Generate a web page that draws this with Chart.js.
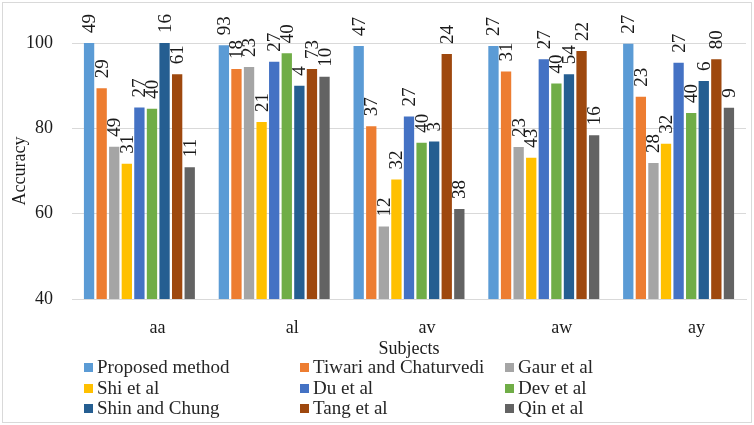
<!DOCTYPE html>
<html>
<head>
<meta charset="utf-8">
<script src="https://cdn.jsdelivr.net/npm/chart.js@4/dist/chart.umd.min.js"></script>
<style>
  html, body { margin: 0; padding: 0; background: #fff; }
  #wrap { position: relative; width: 754px; height: 425px; overflow: hidden; }
  #c { position: absolute; left: 0; top: 0; }
  #legend { position: absolute; left: 0; top: 357px; width: 754px; font-family: "Liberation Serif", serif; font-size: 19px; color: #262626; }
  .item { position: absolute; white-space: nowrap; line-height: 20px; }
  .sw { display: inline-block; width: 9px; height: 9px; margin-right: 4px; vertical-align: 1px; }
</style>
</head>
<body>
<div id="wrap">
  <canvas id="c" width="754" height="425"></canvas>
  <div id="legend"></div>
</div>
<script>
const categories = ['aa', 'al', 'av', 'aw', 'ay'];
const seriesNames = ['Proposed method', 'Tiwari and Chaturvedi', 'Gaur et al', 'Shi et al', 'Du et al', 'Dev et al', 'Shin and Chung', 'Tang et al', 'Qin et al'];
const seriesColors = ['#5B9BD5', '#ED7D31', '#A5A5A5', '#FFC000', '#4472C4', '#70AD47', '#255E91', '#9E480E', '#636363'];

const proposed = [100, 99.5, 99.3, 99.3, 99.8];
const tiwari   = [89.4, 93.9, 80.5, 93.3, 87.4];
const gaur     = [75.7, 94.4, 57.0, 75.6, 71.9];
const shi      = [71.7, 81.5, 68.0, 73.1, 76.4];
const du       = [84.9, 95.6, 82.8, 96.2, 95.4];
const dev      = [84.6, 97.6, 76.6, 90.5, 83.6];
const shin     = [100, 90.0, 76.9, 92.7, 91.1];
const tang     = [92.7, 93.9, 97.4, 98.1, 96.2];
const qin      = [70.9, 92.1, 61.1, 78.4, 84.8];

const proposedLabels = ['49', '93', '47', '27', '27'];
const tiwariLabels   = ['29', '18', '37', '31', '23'];
const gaurLabels     = ['49', '23', '12', '23', '28'];
const shiLabels      = ['31', '21', '32', '43', '32'];
const duLabels       = ['27', '27', '27', '27', '27'];
const devLabels      = ['40', '40', '40', '40', '40'];
const shinLabels     = ['16', '4', '3', '54', '6'];
const tangLabels     = ['61', '73', '24', '22', '80'];
const qinLabels      = ['11', '10', '38', '16', '9'];

const yTicks = [40, 60, 80, 100];

const seriesValues = [proposed, tiwari, gaur, shi, du, dev, shin, tang, qin];
const seriesLabels = [proposedLabels, tiwariLabels, gaurLabels, shiLabels, duLabels, devLabels, shinLabels, tangLabels, qinLabels];

const FONT = '"Liberation Serif", "Times New Roman", serif';

const datasets = seriesNames.map((name, i) => ({
  label: name,
  data: seriesValues[i],
  valueLabels: seriesLabels[i],
  backgroundColor: seriesColors[i],
  borderWidth: 0,
  categoryPercentage: 0.84,
  barPercentage: 0.82
}));

const valueLabelPlugin = {
  id: 'valueLabels',
  afterDatasetsDraw(chart) {
    const ctx = chart.ctx;
    ctx.save();
    ctx.font = '19px ' + FONT;
    ctx.fillStyle = '#1a1a1a';
    ctx.textAlign = 'left';
    ctx.textBaseline = 'middle';
    chart.data.datasets.forEach((ds, di) => {
      const meta = chart.getDatasetMeta(di);
      meta.data.forEach((bar, i) => {
        const txt = ds.valueLabels[i];
        ctx.save();
        ctx.translate(bar.x + 1, bar.y - 10);
        ctx.rotate(-Math.PI / 2);
        ctx.fillText(txt, 0, 0);
        ctx.restore();
      });
    });
    ctx.restore();
  }
};

const borderPlugin = {
  id: 'outerBorder',
  afterDraw(chart) {
    const ctx = chart.ctx;
    ctx.save();
    ctx.strokeStyle = '#D9D9D9';
    ctx.lineWidth = 1;
    ctx.strokeRect(2.5, 2.5, 749, 420);
    ctx.restore();
  }
};

const chart = new Chart(document.getElementById('c'), {
  type: 'bar',
  data: { labels: categories, datasets },
  options: {
    responsive: false,
    animation: false,
    layout: { padding: { top: 43, left: 9, right: 8, bottom: 65 } },
    plugins: {
      legend: { display: false },
      tooltip: { enabled: false }
    },
    scales: {
      x: {
        afterFit(scale) { scale.height = 61; scale.paddingLeft = 0; scale.paddingRight = 0; },
        grid: { display: false, drawTicks: false },
        border: { display: true, color: '#D9D9D9' },
        ticks: {
          font: { family: FONT, size: 18 },
          color: '#1a1a1a',
          padding: 18,
          labelOffset: 18,
          maxRotation: 0
        },
        title: {
          display: true,
          text: 'Subjects',
          font: { family: FONT, size: 18 },
          color: '#1a1a1a',
          padding: { top: 0, bottom: 0 }
        }
      },
      y: {
        min: 40,
        max: 100,
        afterBuildTicks(axis) { axis.ticks = yTicks.map(v => ({ value: v })); },
        afterFit(scale) { scale.width = 63; scale.paddingTop = 0; scale.paddingBottom = 0; },
        grid: { color: '#D9D9D9', drawTicks: false },
        border: { display: false },
        ticks: {
          font: { family: FONT, size: 18 },
          color: '#1a1a1a',
          padding: 19
        },
        title: {
          display: true,
          text: 'Accuracy',
          font: { family: FONT, size: 18 },
          color: '#1a1a1a',
          padding: { top: 0, bottom: 0 }
        }
      }
    }
  },
  plugins: [valueLabelPlugin, borderPlugin]
});

// HTML legend built from the chart's datasets (3 columns)
const colX = [84, 300, 505];
const rowY = [0, 20.5, 41];
const legendEl = document.getElementById('legend');
chart.data.datasets.forEach((ds, i) => {
  const d = document.createElement('div');
  d.className = 'item';
  d.style.left = colX[i % 3] + 'px';
  d.style.top = rowY[Math.floor(i / 3)] + 'px';
  const sw = document.createElement('span');
  sw.className = 'sw';
  sw.style.background = ds.backgroundColor;
  d.appendChild(sw);
  d.appendChild(document.createTextNode(ds.label));
  legendEl.appendChild(d);
});
</script>
</body>
</html>
